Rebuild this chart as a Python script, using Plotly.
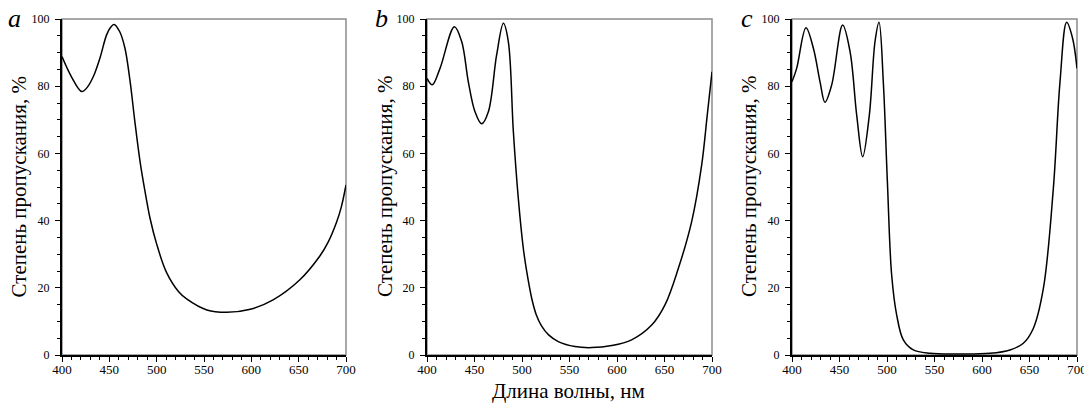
import plotly.graph_objects as go

# ---- data ----
wl_a = [400, 410, 421, 427, 433, 440, 447, 451, 455, 461, 466.5, 472, 477, 482.5, 487.5, 493, 500, 510.5, 523,
        532, 553, 574, 599, 623, 651, 672, 681, 690, 695, 700]
tr_a = [88.8, 82.8, 78.4, 79.8, 82.8, 88.3, 95.2, 97.4, 98.4, 96.2, 91.3, 81.3, 69.4, 57.5, 49.0, 40.7, 33.0, 24.5, 18.9,
        16.6, 13.4, 12.7, 13.6, 16.4, 22.3, 29.3, 33.5, 39.5, 44.0, 50.6]

wl_b = [400, 405.6, 413.7, 428.8, 436.5, 443.5, 450.5, 457.5, 464.6, 473.3, 480.4, 485.6, 490.9, 496.1, 501.4,
        505, 510.2, 515, 520.7, 528, 538.2, 555.8, 573.3, 594.4, 615.4, 636.5, 650.5, 664.6, 678.6, 689.1, 695, 700]
tr_b = [82.3, 80.4, 85.3, 97.7, 93.3, 81.3, 72.4, 68.8, 72.4, 89.3, 98.7, 93.3, 66.5, 46.6, 31.7,
        24.8, 16.9, 12.0, 8.6, 6.0, 4.0, 2.5, 2.2, 2.8, 4.5, 8.9, 14.9, 25.8, 39.7, 56.5, 71.4, 84.3]

wl_c = [400, 404.9, 414.7, 422.5, 429.5, 434.7, 441.8, 453.3, 461.1, 468.1, 474.4, 481.4, 487.4, 491.6, 496.1,
        500.4, 504.9, 510.2, 517.2, 527.7, 545.3, 573.3, 608.4, 629.5, 643.5, 654.0, 664.6, 675.1, 682.1,
        689.1, 695.4, 700]
tr_c = [81.3, 85.3, 97.4, 91.3, 81.3, 75.2, 80.4, 98.2, 90.3, 71.4, 59.0, 71.4, 93.3, 99.0, 81.3,
        51.6, 23.8, 11.9, 4.5, 1.5, 0.5, 0.3, 0.5, 1.5, 3.5, 7.9, 19.8, 49.6, 81.3,
        99.0, 94.2, 85.3]

x_ticks = [400, 450, 500, 550, 600, 650, 700]
y_ticks = [0, 20, 40, 60, 80, 100]
panel_letters = ["a", "b", "c"]
y_title = "Степень пропускания, %"
x_title = "Длина волны, нм"

series = [(wl_a, tr_a), (wl_b, tr_b), (wl_c, tr_c)]

W, H = 1084, 404
# plot-area pixel boxes
lefts = [62, 427, 792]
rights = [346, 712, 1077]
top_px, bot_px = 19, 355
ytitle_x = [18.5, 385, 749]
letter_x = [14, 381, 747]

FONT = "Liberation Serif"

fig = go.Figure()
for i, (xs, ys) in enumerate(series):
    n = "" if i == 0 else str(i + 1)
    fig.add_trace(go.Scatter(x=xs, y=ys, mode="lines",
                             line=dict(color="black", width=1.5, shape="spline", smoothing=1.0),
                             xaxis="x" + n, yaxis="y" + n, showlegend=False, hoverinfo="skip",
                             cliponaxis=True))

layout = dict(width=W, height=H, margin=dict(l=0, r=0, t=0, b=0),
              paper_bgcolor="white", plot_bgcolor="white",
              font=dict(family=FONT, color="black"))

ydom = [1 - bot_px / H, 1 - top_px / H]
shapes = []
annotations = []
for i in range(3):
    n = "" if i == 0 else str(i + 1)
    xd = [lefts[i] / W, rights[i] / W]
    layout["xaxis" + n] = dict(domain=xd, range=[400, 700], anchor="y" + n, automargin=False,
                               tickvals=x_ticks, ticks="outside", ticklen=5, tickwidth=1.2,
                               tickcolor="black", showline=True, linecolor="black", linewidth=2,
                               showgrid=False, zeroline=False, tickfont=dict(size=13, family=FONT, color="black"),
                               ticklabelstandoff=-4, ticklabeloverflow="allow",
                               minor=dict(dtick=10, tick0=400, ticks="outside", ticklen=3,
                                          tickcolor="black", tickwidth=1, showgrid=False),
                               fixedrange=True)
    layout["yaxis" + n] = dict(domain=ydom, range=[0, 100], anchor="x" + n, automargin=False,
                               tickvals=y_ticks, ticks="outside", ticklen=5, tickwidth=1.2,
                               tickcolor="black", showline=True, linecolor="black", linewidth=2,
                               showgrid=False, zeroline=False, tickfont=dict(size=12, family=FONT, color="black"),
                               ticklabelstandoff=3, ticklabeloverflow="allow",
                               minor=dict(dtick=5, tick0=0, ticks="outside", ticklen=3,
                                          tickcolor="black", tickwidth=1, showgrid=False),
                               fixedrange=True)
    # gray frame (top & right)
    shapes.append(dict(type="rect", xref="paper", yref="paper",
                       x0=xd[0], x1=xd[1], y0=ydom[0], y1=ydom[1],
                       line=dict(color="#8c8c8c", width=1.5), layer="below"))
    annotations.append(dict(text=y_title, xref="paper", yref="paper",
                            x=ytitle_x[i] / W, y=1 - 187 / H, textangle=-90,
                            xanchor="center", yanchor="middle", showarrow=False,
                            font=dict(size=21, family=FONT, color="black")))
    annotations.append(dict(text="<i>" + panel_letters[i] + "</i>", xref="paper", yref="paper",
                            x=letter_x[i] / W, y=1 - 18 / H,
                            xanchor="center", yanchor="middle", showarrow=False,
                            font=dict(size=26, family=FONT, color="black")))

annotations.append(dict(text=x_title, xref="paper", yref="paper",
                        x=568 / W, y=1 - 391 / H, xanchor="center", yanchor="middle",
                        showarrow=False, font=dict(size=21, family=FONT, color="black")))

layout["shapes"] = shapes
layout["annotations"] = annotations
fig.update_layout(**layout)
fig.write_html("out.html", config={"displayModeBar": False},
               post_script="document.body.style.margin='0px';document.body.style.overflow='hidden';")
